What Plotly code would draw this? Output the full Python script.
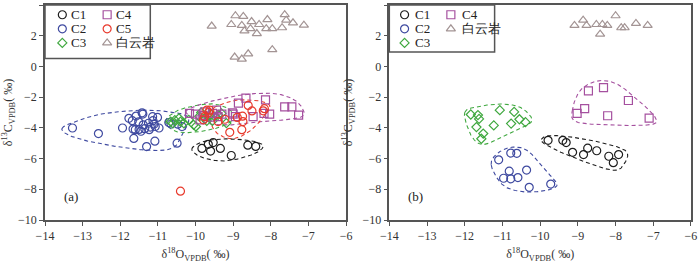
import numpy as np
import plotly.graph_objects as go

# ---------------- data: panel (a) ----------------
a_c1_x = [-9.83, -9.66, -9.53, -9.60, -9.34, -9.05, -8.61, -8.40]
a_c1_y = [-5.34, -5.07, -4.96, -5.51, -5.34, -5.80, -5.13, -5.21]

a_c2_x = [-13.27, -12.58, -11.94, -11.77, -11.68, -11.58, -11.42, -11.40, -11.51, -11.66, -11.60,
          -11.64, -11.45, -11.39, -11.25, -11.23, -11.30, -11.14, -11.13, -11.01, -11.07, -10.97,
          -11.08, -10.49, -11.20, -11.10, -10.71, -10.65, -10.47, -10.36, -11.50, -11.35]
a_c2_y = [-4.01, -4.37, -4.01, -3.38, -3.53, -3.23, -3.02, -3.10, -3.61, -4.08, -4.12,
          -4.69, -4.22, -3.80, -3.70, -4.12, -5.22, -3.27, -3.53, -3.32, -3.91, -4.01,
          -4.87, -5.00, -3.95, -3.75, -3.65, -3.75, -3.76, -3.91, -4.10, -4.05]

a_c3_x = [-10.66, -10.60, -10.55, -10.44, -10.31, -10.18, -10.05, -9.99, -9.85, -9.75, -9.65,
          -9.55, -9.49, -9.40, -9.31, -9.18, -9.60, -9.70, -10.40, -9.90]
a_c3_y = [-3.59, -3.70, -3.50, -3.38, -3.70, -3.48, -3.80, -3.91, -3.00, -3.40, -3.30,
          -3.55, -3.27, -3.15, -3.06, -3.69, -3.10, -3.55, -3.60, -3.25]

a_c4_x = [-10.16, -10.00, -9.88, -9.80, -9.75, -9.60, -9.55, -9.44, -9.40, -9.30, -9.02,
          -8.94, -8.86, -8.66, -8.47, -8.14, -8.18, -8.03, -7.63, -7.44, -7.26, -9.00]
a_c4_y = [-3.06, -3.10, -3.48, -3.20, -2.96, -3.30, -3.06, -2.85, -3.27, -3.10, -3.02,
          -3.27, -2.39, -2.07, -3.27, -2.18, -3.06, -3.11, -2.64, -2.64, -3.17, -3.10]

a_c5_x = [-10.40, -9.76, -9.70, -9.65, -9.62, -9.79, -9.40, -9.22, -9.09, -8.89, -8.77,
          -8.74, -8.75, -8.60, -8.50, -8.20, -8.17]
a_c5_y = [-8.12, -3.27, -2.85, -3.00, -2.85, -3.48, -3.59, -3.44, -4.29, -3.32, -4.12,
          -3.59, -3.24, -2.54, -2.90, -2.89, -2.75]

a_dol_x = [-9.57, -8.94, -8.73, -9.05, -8.77, -8.51, -8.70, -8.54, -8.31, -8.37, -8.09,
           -8.12, -7.96, -7.63, -7.59, -7.70, -7.41, -7.12, -8.96, -8.77, -8.60, -7.96]
a_dol_y = [2.63, 3.30, 3.26, 2.73, 2.67, 2.92, 2.31, 2.46, 2.73, 2.14, 3.05,
           2.46, 2.46, 3.37, 3.01, 2.52, 2.84, 2.69, 0.61, 0.48, 0.82, 1.09]

# hull outlines (control points), panel (a)
a_h1_x = [-10.1, -9.8, -9.2, -8.5, -8.2, -8.5, -9.2, -9.8]
a_h1_y = [-5.4, -4.9, -4.72, -4.85, -5.2, -5.75, -6.15, -5.95]
a_h2_x = [-13.55, -13.2, -12.5, -11.5, -10.7, -10.2, -10.3, -10.6, -11.3, -12.5, -13.3]
a_h2_y = [-4.05, -3.6, -3.1, -2.85, -2.95, -3.3, -4.2, -5.3, -5.45, -5.05, -4.55]
a_h3_x = [-10.8, -10.5, -10.0, -9.5, -9.1, -9.0, -9.3, -9.9, -10.5]
a_h3_y = [-3.6, -2.9, -2.55, -2.45, -2.8, -3.4, -3.9, -4.25, -4.25]
a_h4_x = [-10.25, -9.9, -9.2, -8.5, -7.8, -7.3, -7.12, -7.5, -8.1, -9.0, -9.7]
a_h4_y = [-3.0, -2.5, -2.05, -1.78, -1.8, -2.3, -3.15, -3.45, -3.55, -3.8, -3.7]
a_h5_x = [-9.65, -9.4, -8.9, -8.3, -8.02, -8.2, -8.55, -9.0, -9.4, -9.6]
a_h5_y = [-3.0, -2.55, -2.2, -2.25, -2.6, -3.3, -4.2, -4.7, -4.4, -3.7]

# ---------------- data: panel (b) ----------------
b_c1_x = [-9.79, -9.40, -9.31, -9.14, -8.85, -8.74, -8.50, -8.18, -8.06, -7.92]
b_c1_y = [-4.81, -4.81, -4.96, -5.59, -5.74, -5.32, -5.49, -5.85, -6.27, -5.74]
b_c2_x = [-11.10, -10.78, -10.62, -10.82, -10.36, -10.97, -10.78, -10.59, -10.29, -9.72]
b_c2_y = [-6.08, -5.64, -5.66, -6.82, -6.75, -7.28, -7.32, -7.24, -7.87, -7.66]
b_c3_x = [-11.84, -11.65, -11.62, -11.69, -11.51, -11.56, -11.23, -11.07, -10.69, -10.77, -10.55, -10.39]
b_c3_y = [-3.13, -3.17, -3.42, -3.95, -4.37, -4.71, -3.84, -2.85, -2.96, -3.72, -3.44, -3.63]
b_c4_x = [-9.02, -8.82, -8.72, -8.32, -8.21, -7.66, -7.11]
b_c4_y = [-3.06, -2.75, -1.59, -1.38, -3.21, -2.22, -3.36]
b_dol_x = [-9.09, -8.86, -8.77, -8.51, -8.35, -8.22, -8.41, -8.00, -7.85, -7.76, -7.46, -7.15]
b_dol_y = [2.67, 3.01, 2.67, 2.73, 2.73, 2.67, 2.10, 3.30, 2.52, 2.52, 2.80, 2.67]

b_h1_x = [-9.97, -9.7, -8.9, -8.0, -7.68, -7.85, -8.1, -8.6, -9.3, -9.85]
b_h1_y = [-4.75, -4.5, -4.7, -5.2, -5.7, -6.6, -6.75, -6.4, -5.75, -5.1]
b_h2_x = [-11.3, -11.1, -10.7, -10.3, -9.85, -9.55, -9.9, -10.5, -11.0]
b_h2_y = [-6.4, -5.6, -5.25, -5.55, -6.8, -7.7, -8.1, -8.15, -7.7]
b_h3_x = [-12.0, -11.6, -11.0, -10.5, -10.22, -10.7, -11.3, -11.6, -11.85]
b_h3_y = [-3.0, -2.6, -2.45, -2.7, -3.55, -4.2, -4.95, -5.05, -4.4]
b_h4_x = [-9.15, -8.95, -8.5, -8.0, -7.5, -6.95, -7.1, -8.3, -9.05]
b_h4_y = [-2.9, -1.6, -0.95, -1.1, -2.0, -3.3, -3.8, -3.8, -3.6]

# legend entries per panel: (name, key, symbol, column, row)
a_legend = [("C1", "C1", "circle-open", 0, 0), ("C2", "C2", "circle-open", 0, 1),
            ("C3", "C3", "diamond-open", 0, 2), ("C4", "C4", "square-open", 1, 0),
            ("C5", "C5", "circle-open", 1, 1), ("白云岩", "dol", "triangle-up-open", 1, 2)]
b_legend = [("C1", "C1", "circle-open", 0, 0), ("C2", "C2", "circle-open", 0, 1),
            ("C3", "C3", "diamond-open", 0, 2), ("C4", "C4", "square-open", 1, 0),
            ("白云岩", "dol", "triangle-up-open", 1, 1)]

# ---------------- styling ----------------
COL = {"C1": "#1e1e1e", "C2": "#3f4aa0", "C3": "#3fa83f", "C4": "#a5509f",
       "C5": "#e8392c", "dol": "#a39494"}
FONT = "Liberation Serif, Times New Roman, serif"
W, H = 700, 263
ML, MR, MT, MB = 41, 3, 5, 37
DOM_A = [0, 0.466]
DOM_B = [0.533, 1]
XR = [-14, -6]
YR = [-10, 4]

fig = go.Figure()


def closed_curve(xs, ys, n=24):
    p = np.column_stack([xs, ys]).astype(float)
    m = len(p)
    out = []
    for i in range(m):
        p0, p1, p2, p3 = p[(i - 1) % m], p[i], p[(i + 1) % m], p[(i + 2) % m]
        t = np.linspace(0, 1, n, endpoint=False)[:, None]
        seg = 0.5 * ((2 * p1) + (-p0 + p2) * t + (2 * p0 - 5 * p1 + 4 * p2 - p3) * t ** 2
                     + (-p0 + 3 * p1 - 3 * p2 + p3) * t ** 3)
        out.append(seg)
    out = np.vstack(out + [p[:1]])
    return out[:, 0], out[:, 1]


def add_hull(xs, ys, color, xa, ya):
    cx, cy = closed_curve(xs, ys)
    fig.add_trace(go.Scatter(x=cx, y=cy, mode="lines", xaxis=xa, yaxis=ya, showlegend=False,
                             hoverinfo="skip",
                             line=dict(color=color, width=1.1, dash="4px,3px")))


def msize(symbol):
    return 7 if symbol.startswith("diamond") else 8


def add_pts(xs, ys, name, color, symbol, xa, ya):
    fig.add_trace(go.Scatter(x=xs, y=ys, mode="markers", name=name, xaxis=xa, yaxis=ya,
                             showlegend=False,
                             marker=dict(symbol=symbol, size=msize(symbol), color=color,
                                         line=dict(color=color, width=1.2))))


def add_legend(entries, xa, ya, dom, sym_off, txt_off, col_step, row_px):
    # pixel offsets inside the panel converted through the axis scale
    plot_w = (W - ML - MR) * (dom[1] - dom[0])
    plot_h = H - MT - MB
    ux = (XR[1] - XR[0]) / plot_w
    uy = (YR[1] - YR[0]) / plot_h
    for name, key, symbol, col, row in entries:
        sx = XR[0] + (sym_off + col * col_step) * ux
        tx = XR[0] + (txt_off + col * col_step) * ux
        yy = YR[1] - row_px[row] * uy
        fig.add_trace(go.Scatter(x=[sx], y=[yy], mode="markers", xaxis=xa, yaxis=ya,
                                 showlegend=False, hoverinfo="skip",
                                 marker=dict(symbol=symbol, size=msize(symbol), color=COL[key],
                                             line=dict(color=COL[key], width=1.2))))
        fig.add_annotation(text=name, x=tx, y=yy, xref=xa, yref=ya, xanchor="left",
                           yanchor="middle", showarrow=False, height=13, borderpad=0,
                           font=dict(family=FONT, size=13, color="#222222"))


# panel a
add_hull(a_h2_x, a_h2_y, COL["C2"], "x", "y")
add_hull(a_h3_x, a_h3_y, COL["C3"], "x", "y")
add_hull(a_h4_x, a_h4_y, COL["C4"], "x", "y")
add_hull(a_h5_x, a_h5_y, COL["C5"], "x", "y")
add_hull(a_h1_x, a_h1_y, COL["C1"], "x", "y")
add_pts(a_c1_x, a_c1_y, "C1", COL["C1"], "circle-open", "x", "y")
add_pts(a_c2_x, a_c2_y, "C2", COL["C2"], "circle-open", "x", "y")
add_pts(a_c3_x, a_c3_y, "C3", COL["C3"], "diamond-open", "x", "y")
add_pts(a_c4_x, a_c4_y, "C4", COL["C4"], "square-open", "x", "y")
add_pts(a_c5_x, a_c5_y, "C5", COL["C5"], "circle-open", "x", "y")
add_pts(a_dol_x, a_dol_y, "白云岩", COL["dol"], "triangle-up-open", "x", "y")

# panel b
add_hull(b_h1_x, b_h1_y, COL["C1"], "x2", "y2")
add_hull(b_h2_x, b_h2_y, COL["C2"], "x2", "y2")
add_hull(b_h3_x, b_h3_y, COL["C3"], "x2", "y2")
add_hull(b_h4_x, b_h4_y, COL["C4"], "x2", "y2")
add_pts(b_c1_x, b_c1_y, "C1", COL["C1"], "circle-open", "x2", "y2")
add_pts(b_c2_x, b_c2_y, "C2", COL["C2"], "circle-open", "x2", "y2")
add_pts(b_c3_x, b_c3_y, "C3", COL["C3"], "diamond-open", "x2", "y2")
add_pts(b_c4_x, b_c4_y, "C4", COL["C4"], "square-open", "x2", "y2")
add_pts(b_dol_x, b_dol_y, "白云岩", COL["dol"], "triangle-up-open", "x2", "y2")

add_legend(a_legend, "x", "y", DOM_A, 17.6, 25.5, 45.5, [10, 24.5, 39])
add_legend(b_legend, "x2", "y2", DOM_B, 15.5, 25.5, 47.0, [10, 24.5, 39])

axis_common = dict(showline=True, mirror=True, linecolor="#555555", linewidth=1.5,
                   ticks="outside", ticklen=4, tickcolor="#555555", showgrid=False,
                   zeroline=False, tickfont=dict(family=FONT, size=12, color="#333333"))
xt = "δ<sup>18</sup>O<sub>VPDB</sub>( ‰)"
yt = "δ<sup>13</sup>C<sub>VPDB</sub>( ‰)"

fig.update_layout(
    width=W, height=H,
    margin=dict(l=ML, r=MR, t=MT, b=MB),
    paper_bgcolor="white", plot_bgcolor="white",
    showlegend=False,
    font=dict(family=FONT, size=12, color="#333333"),
    xaxis=dict(domain=DOM_A, range=XR, dtick=1, anchor="y",
               title=dict(text=xt, standoff=8, font=dict(size=12)), **axis_common),
    yaxis=dict(domain=[0, 1], range=YR, dtick=2, anchor="x",
               title=dict(text=yt, standoff=7, font=dict(size=12)), **axis_common),
    xaxis2=dict(domain=DOM_B, range=XR, dtick=1, anchor="y2",
                title=dict(text=xt, standoff=8, font=dict(size=12)), **axis_common),
    yaxis2=dict(domain=[0, 1], range=YR, dtick=2, anchor="x2",
                title=dict(text=yt, standoff=7, font=dict(size=12)), **axis_common),
)

# legend boxes
fig.add_shape(type="rect", xref="paper", yref="paper", x0=0, x1=0.163, y0=0.751, y1=1,
              line=dict(color="#555555", width=1.5))
fig.add_shape(type="rect", xref="paper", yref="paper", x0=0.533, x1=0.696, y0=0.781, y1=1,
              line=dict(color="#555555", width=1.5))

fig.add_annotation(text="(a)", x=-13.3, y=-8.5, xref="x", yref="y", showarrow=False,
                   font=dict(family=FONT, size=13, color="#222222"))
fig.add_annotation(text="(b)", x=-13.3, y=-8.5, xref="x2", yref="y2", showarrow=False,
                   font=dict(family=FONT, size=13, color="#222222"))

fig.write_html("out.html", config={"displayModeBar": False},
               post_script="document.body.style.margin='0px';")
